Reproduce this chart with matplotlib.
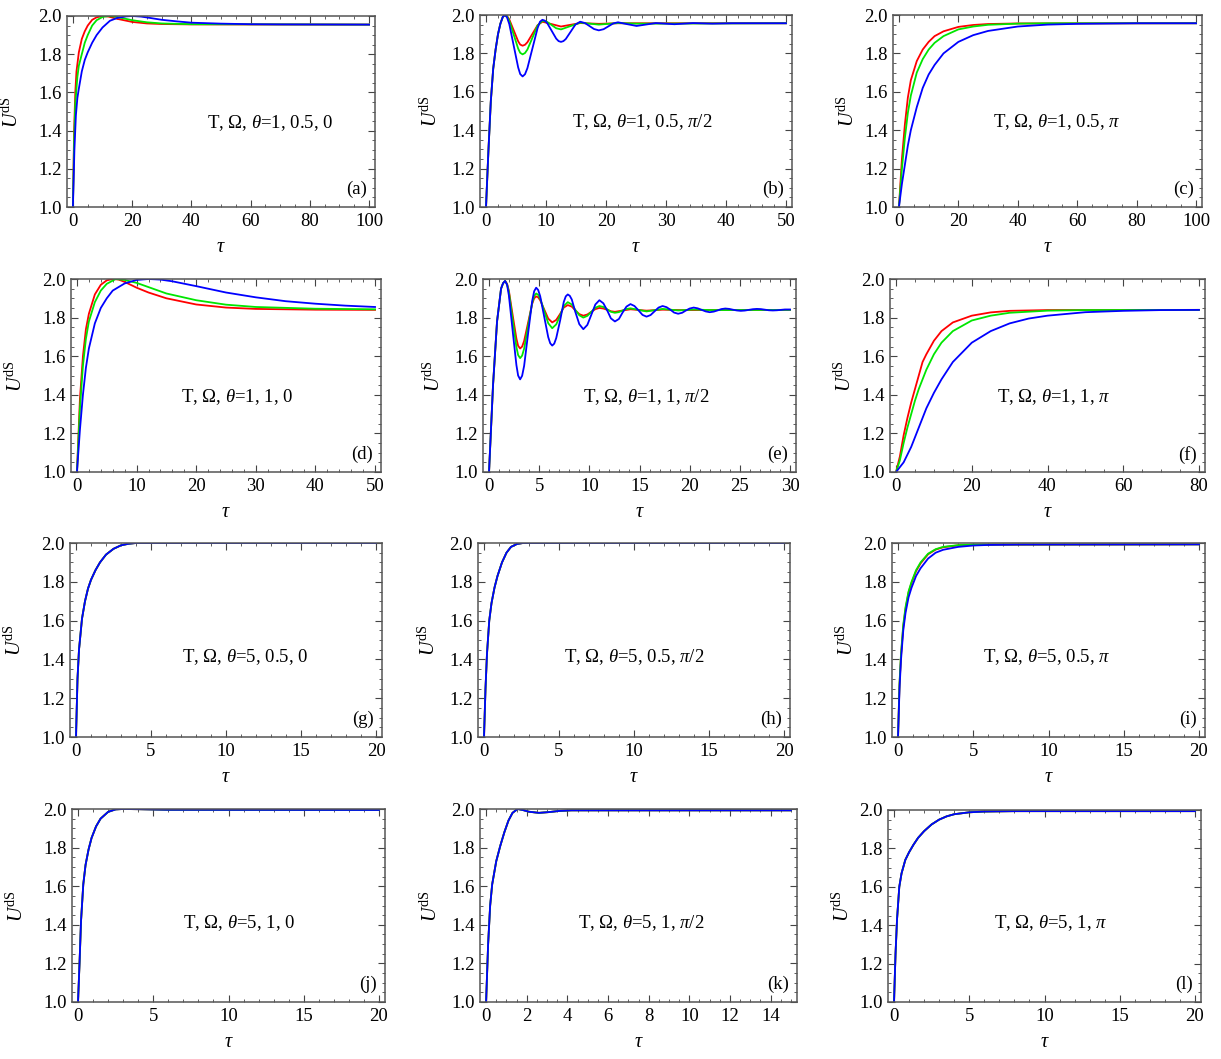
import matplotlib
matplotlib.use("Agg")
import matplotlib.pyplot as plt
from matplotlib.ticker import MultipleLocator, FormatStrFormatter

plt.rcParams['font.family'] = 'Liberation Serif'
plt.rcParams['mathtext.fontset'] = 'custom'
plt.rcParams['mathtext.rm'] = 'Liberation Serif'
plt.rcParams['mathtext.it'] = 'Liberation Serif:italic'
plt.rcParams['mathtext.bf'] = 'Liberation Serif:bold'

# ---- data: tau points and U^dS values per curve ----

# (a) T, Omega, theta = 1, 0.5, 0
a_red_t = [0, 0.4, 0.8, 1.2, 2, 3, 4, 5, 6.5, 8, 10, 12, 15, 20, 25, 30, 40, 100]
a_red_u = [1.0, 1.4, 1.6, 1.71, 1.81, 1.88, 1.92, 1.95, 1.98, 1.993, 2.0, 1.997, 1.985, 1.969, 1.961, 1.958, 1.956, 1.955]
a_green_t = [0, 0.4, 0.8, 1.1, 1.5, 2, 3, 4, 5, 6.5, 8, 10, 12, 14, 17, 20, 25, 30, 40, 100]
a_green_u = [1.0, 1.35, 1.54, 1.6, 1.68, 1.74, 1.8, 1.86, 1.9, 1.95, 1.978, 1.995, 2.0, 1.997, 1.988, 1.978, 1.967, 1.961, 1.957, 1.955]
a_blue_t = [0, 0.5, 1, 1.5, 2, 3, 4, 5, 6.5, 8, 10, 12.5, 15, 18, 20, 23, 26, 30, 35, 40, 50, 60, 70, 100]
a_blue_u = [1.0, 1.3, 1.48, 1.57, 1.62, 1.71, 1.77, 1.81, 1.86, 1.9, 1.94, 1.975, 1.99, 1.998, 2.0, 1.997, 1.99, 1.98, 1.972, 1.965, 1.96, 1.957, 1.956, 1.955]

# (b) T, Omega, theta = 1, 0.5, pi/2
b_rise_t = [0, 0.4, 0.8, 1.2, 1.6, 2.0, 2.4, 2.8]
b_rise_u = [1.0, 1.29, 1.55, 1.72, 1.82, 1.9, 1.955, 1.99]
b_red_t = b_rise_t + [3.14, 3.5, 3.88, 4.62, 5.36, 5.7, 6.1, 6.5, 6.9, 7.75, 8.6, 9.4, 10.95, 12.5, 14.1, 15.7, 18.8, 22, 50]
b_red_u = b_rise_u + [2.0, 1.995, 1.977, 1.92, 1.863, 1.846, 1.84, 1.845, 1.858, 1.9025, 1.947, 1.965, 1.9525, 1.94, 1.949, 1.958, 1.954, 1.957, 1.957]
b_green_t = b_rise_t + [3.14, 3.5, 3.88, 4.62, 5.36, 5.7, 6.1, 6.5, 6.9, 7.75, 8.6, 9.4, 10.2, 10.95, 11.7, 12.5, 14.1, 15.7, 18.8, 22, 25.1, 50]
b_green_u = b_rise_u + [2.0, 1.993, 1.97, 1.8975, 1.825, 1.803, 1.795, 1.802, 1.82, 1.8825, 1.945, 1.97, 1.964, 1.9475, 1.931, 1.925, 1.9425, 1.96, 1.95, 1.958, 1.955, 1.957]
b_blue_t = b_rise_t + [3.14, 3.5, 3.88, 4.62, 5.36, 5.7, 6.1, 6.5, 6.9, 7.75, 8.6, 9.0, 9.4, 9.8, 10.2, 10.95, 11.7, 12.1, 12.5, 12.9, 13.3,
                       14.1, 14.9, 15.7, 16.5, 17.25, 18.0, 18.8, 19.6, 20.4, 21.2, 22, 23.5, 25.1, 26.7, 28.3, 31.4, 34.5, 37.7, 41, 50]
b_blue_u = b_rise_u + [2.0, 1.988, 1.953, 1.84, 1.727, 1.6925, 1.68, 1.6915, 1.723, 1.8275, 1.932, 1.965, 1.975, 1.9705, 1.958, 1.9175, 1.877,
                       1.864, 1.86, 1.864, 1.875, 1.9125, 1.95, 1.965, 1.958, 1.9425, 1.927, 1.92, 1.926, 1.941, 1.956, 1.962, 1.9525,
                       1.943, 1.9505, 1.958, 1.952, 1.958, 1.955, 1.957, 1.957]

# (c) T, Omega, theta = 1, 0.5, pi
c_red_t = [0, 1, 2, 3, 4, 6, 8, 10, 12, 15, 20, 25, 30, 40, 100]
c_red_u = [1.0, 1.25, 1.43, 1.57, 1.66, 1.76, 1.82, 1.86, 1.89, 1.915, 1.938, 1.948, 1.953, 1.956, 1.957]
c_green_t = [0, 1, 2, 3, 4, 6, 8, 10, 12, 15, 20, 25, 30, 40, 50, 100]
c_green_u = [1.0, 1.2, 1.36, 1.49, 1.58, 1.7, 1.77, 1.82, 1.855, 1.89, 1.925, 1.94, 1.949, 1.955, 1.957, 1.957]
c_blue_t = [0, 1, 2, 3, 4, 6, 8, 10, 12, 15, 20, 25, 30, 40, 50, 60, 80, 100]
c_blue_u = [1.0, 1.12, 1.22, 1.32, 1.4, 1.52, 1.62, 1.69, 1.74, 1.8, 1.86, 1.895, 1.917, 1.94, 1.95, 1.954, 1.957, 1.957]

# (d) T, Omega, theta = 1, 1, 0
d_red_t = [0, 0.5, 1, 1.5, 2, 3, 4, 5, 6, 7, 8, 10, 12, 15, 20, 25, 30, 40, 50]
d_red_u = [1.0, 1.38, 1.6, 1.74, 1.82, 1.92, 1.97, 1.993, 2.0, 1.997, 1.985, 1.955, 1.93, 1.9, 1.868, 1.852, 1.845, 1.841, 1.84]
d_green_t = [0, 0.5, 1, 1.5, 2, 3, 4, 5, 6.5, 8, 10, 12, 15, 20, 25, 30, 40, 50]
d_green_u = [1.0, 1.33, 1.55, 1.69, 1.78, 1.88, 1.94, 1.975, 2.0, 1.995, 1.98, 1.958, 1.925, 1.89, 1.867, 1.855, 1.846, 1.843]
d_blue_t = [0, 0.5, 1, 1.5, 2, 3, 4, 5, 6, 8, 10, 12, 14, 16, 20, 25, 30, 35, 40, 45, 50]
d_blue_u = [1.0, 1.22, 1.4, 1.54, 1.64, 1.77, 1.85, 1.9, 1.94, 1.977, 1.995, 2.0, 1.997, 1.988, 1.963, 1.93, 1.905, 1.885, 1.872, 1.862, 1.855]

# (e) T, Omega, theta = 1, 1, pi/2
e_rise_t = [0, 0.4, 0.8, 1.2, 1.4, 1.6]
e_rise_u = [1.0, 1.45, 1.78, 1.95, 1.978, 1.99]
e_red_t = e_rise_t + [1.8, 1.98, 2.35, 2.73, 2.9, 3.1, 3.3, 3.5, 3.9, 4.3, 4.5, 4.7, 4.9, 5.1, 5.5, 5.9, 6.3, 6.7, 7.1, 7.45, 7.85,
                      8.25, 8.6, 9.0, 9.4, 9.8, 10.2, 10.6, 11.0, 11.4, 11.8, 12.15, 12.55, 13.3, 14.1, 14.9, 15.7,
                      16.5, 17.3, 19, 30]
e_red_u = e_rise_u + [1.975, 1.939, 1.815, 1.691, 1.654, 1.64, 1.65, 1.679, 1.775, 1.871, 1.9, 1.91, 1.905, 1.89, 1.8425, 1.795, 1.775,
                      1.788, 1.82, 1.852, 1.865, 1.857, 1.8375, 1.818, 1.81, 1.816, 1.83, 1.844, 1.85, 1.847, 1.84, 1.833, 1.83,
                      1.8365, 1.843, 1.8395, 1.836, 1.8385, 1.841, 1.839, 1.84]
e_green_t = e_rise_t + [1.8, 1.98, 2.35, 2.73, 2.9, 3.1, 3.3, 3.5, 3.9, 4.3, 4.5, 4.7, 4.9, 5.1, 5.5, 5.9, 6.3, 6.7, 7.1, 7.45, 7.85,
                        8.25, 8.6, 9.0, 9.4, 9.8, 10.2, 10.6, 11.0, 11.4, 11.8, 12.15, 12.55, 12.95, 13.3, 13.7, 14.1,
                        14.9, 15.7, 16.5, 17.3, 18.85, 20.4, 22, 30]
e_green_u = e_rise_u + [1.972, 1.932, 1.79, 1.648, 1.606, 1.59, 1.603, 1.639, 1.7575, 1.876, 1.912, 1.925, 1.918, 1.899, 1.835, 1.771,
                        1.745, 1.765, 1.8125, 1.86, 1.88, 1.868, 1.84, 1.812, 1.8, 1.809, 1.83, 1.851, 1.86, 1.855, 1.8425, 1.83,
                        1.825, 1.8285, 1.8365, 1.8445, 1.848, 1.84, 1.832, 1.8385, 1.845, 1.837, 1.842, 1.839, 1.84]
e_blue_t = e_rise_t + [1.8, 1.98, 2.35, 2.73, 2.9, 3.1, 3.3, 3.5, 3.9, 4.3, 4.5, 4.7, 4.9, 5.1, 5.5, 5.9, 6.1, 6.3, 6.5, 6.7, 7.1,
                       7.45, 7.65, 7.85, 8.05, 8.25, 8.6, 9.0, 9.4, 9.8, 10.2, 10.6, 11.0, 11.4, 11.8, 12.15, 12.55, 12.95,
                       13.3, 13.7, 14.1, 14.5, 14.9, 15.3, 15.7, 16.1, 16.5, 16.9, 17.3, 17.7, 18.1, 18.45, 18.85, 19.25,
                       19.6, 20.0, 20.4, 20.8, 21.2, 21.6, 22.0, 22.4, 22.8, 23.15, 23.55, 23.95, 24.3, 24.7, 25.1, 25.5,
                       25.9, 26.3, 26.7, 27.1, 27.5, 27.9, 28.3, 28.7, 29.1, 29.5, 30]
e_blue_u = e_rise_u + [1.97, 1.915, 1.735, 1.554, 1.5, 1.48, 1.4985, 1.55, 1.72, 1.885, 1.9365, 1.955, 1.943, 1.911, 1.805, 1.699,
                       1.667, 1.655, 1.665, 1.694, 1.788, 1.881, 1.91, 1.92, 1.913, 1.894, 1.83, 1.766, 1.74, 1.762, 1.815,
                       1.868, 1.89, 1.874, 1.835, 1.796, 1.78, 1.793, 1.825, 1.857, 1.87, 1.86, 1.8375, 1.814, 1.805, 1.813,
                       1.8325, 1.852, 1.86, 1.854, 1.84, 1.826, 1.82, 1.825, 1.836, 1.847, 1.852, 1.848, 1.84, 1.832, 1.828,
                       1.831, 1.8375, 1.844, 1.847, 1.845, 1.841, 1.837, 1.835, 1.8365, 1.84, 1.8435, 1.845, 1.844, 1.841,
                       1.838, 1.837, 1.838, 1.84, 1.842, 1.842]

# (f) T, Omega, theta = 1, 1, pi
f_red_t = [0, 1, 2, 3, 4, 5, 6, 7, 8, 10, 12, 15, 20, 25, 30, 40, 80]
f_red_u = [1.0, 1.08, 1.19, 1.28, 1.36, 1.43, 1.5, 1.57, 1.61, 1.68, 1.73, 1.775, 1.81, 1.827, 1.835, 1.839, 1.84]
f_green_t = [0, 1, 2, 3, 4, 5, 6, 8, 10, 12, 15, 20, 25, 30, 40, 50, 80]
f_green_u = [1.0, 1.06, 1.15, 1.23, 1.3, 1.37, 1.43, 1.53, 1.61, 1.67, 1.73, 1.785, 1.81, 1.825, 1.836, 1.839, 1.84]
f_blue_t = [0, 2, 4, 5, 6, 8, 10, 12, 15, 18, 20, 25, 30, 35, 40, 50, 60, 70, 80]
f_blue_u = [1.0, 1.05, 1.13, 1.18, 1.23, 1.33, 1.41, 1.48, 1.57, 1.63, 1.67, 1.73, 1.77, 1.795, 1.81, 1.828, 1.835, 1.839, 1.84]

# (g) T, Omega, theta = 5, 0.5, 0  (three curves coincide)
g_t = [0, 0.1, 0.2, 0.4, 0.6, 0.8, 1.0, 1.3, 1.6, 2.0, 2.5, 3.0, 3.5, 4, 20]
g_u = [1.0, 1.3, 1.45, 1.61, 1.7, 1.765, 1.81, 1.86, 1.9, 1.94, 1.97, 1.988, 1.996, 2.0, 2.0]

# (h) T, Omega, theta = 5, 0.5, pi/2
h_t = [0, 0.1, 0.2, 0.35, 0.5, 0.7, 0.9, 1.2, 1.5, 1.8, 2.2, 2.6, 20]
h_u = [1.0, 1.25, 1.43, 1.6, 1.69, 1.77, 1.83, 1.9, 1.95, 1.98, 1.995, 2.0, 2.0]

# (i) T, Omega, theta = 5, 0.5, pi
i_rg_t = [0, 0.1, 0.2, 0.35, 0.5, 0.7, 0.9, 1.2, 1.5, 2.0, 2.5, 3, 4, 5, 20]
i_red_u = [1.0, 1.27, 1.42, 1.57, 1.66, 1.745, 1.795, 1.855, 1.895, 1.942, 1.966, 1.978, 1.988, 1.991, 1.993]
i_green_u = [1.0, 1.28, 1.43, 1.58, 1.67, 1.75, 1.8, 1.86, 1.9, 1.945, 1.968, 1.98, 1.989, 1.992, 1.993]
i_blue_t = [0, 0.1, 0.2, 0.35, 0.5, 0.7, 0.9, 1.2, 1.5, 2.0, 2.5, 3, 4, 5, 6, 8, 20]
i_blue_u = [1.0, 1.25, 1.4, 1.55, 1.64, 1.72, 1.77, 1.83, 1.87, 1.92, 1.95, 1.965, 1.98, 1.987, 1.99, 1.992, 1.993]

# (j) T, Omega, theta = 5, 1, 0
j_t = [0, 0.1, 0.2, 0.35, 0.5, 0.7, 0.9, 1.2, 1.5, 2, 2.5, 3, 4, 6, 20]
j_u = [1.0, 1.2, 1.42, 1.61, 1.71, 1.79, 1.85, 1.91, 1.95, 1.985, 1.998, 2.0, 1.999, 1.996, 1.995]

# (k) T, Omega, theta = 5, 1, pi/2
k_t = [0, 0.1, 0.2, 0.3, 0.5, 0.7, 0.9, 1.1, 1.3, 1.55, 1.8, 2.1, 2.6, 3.1, 3.6, 4.2, 15]
k_u = [1.0, 1.3, 1.5, 1.61, 1.73, 1.81, 1.88, 1.94, 1.98, 2.0, 1.995, 1.986, 1.98, 1.984, 1.99, 1.993, 1.993]

# (l) T, Omega, theta = 5, 1, pi
l_t = [0, 0.1, 0.2, 0.35, 0.5, 0.75, 1.0, 1.3, 1.6, 2.0, 2.5, 3, 3.5, 4, 5, 6, 8, 20]
l_u = [1.0, 1.25, 1.43, 1.6, 1.67, 1.74, 1.78, 1.82, 1.855, 1.89, 1.925, 1.95, 1.967, 1.978, 1.988, 1.992, 1.994, 1.994]

panel_labels = ['(a)', '(b)', '(c)', '(d)', '(e)', '(f)', '(g)', '(h)', '(i)', '(j)', '(k)', '(l)']
param_texts = [r'T, $\Omega$, $\theta$=1, 0.5, 0', r'T, $\Omega$, $\theta$=1, 0.5, $\pi$/2', r'T, $\Omega$, $\theta$=1, 0.5, $\pi$',
               r'T, $\Omega$, $\theta$=1, 1, 0', r'T, $\Omega$, $\theta$=1, 1, $\pi$/2', r'T, $\Omega$, $\theta$=1, 1, $\pi$',
               r'T, $\Omega$, $\theta$=5, 0.5, 0', r'T, $\Omega$, $\theta$=5, 0.5, $\pi$/2', r'T, $\Omega$, $\theta$=5, 0.5, $\pi$',
               r'T, $\Omega$, $\theta$=5, 1, 0', r'T, $\Omega$, $\theta$=5, 1, $\pi$/2', r'T, $\Omega$, $\theta$=5, 1, $\pi$']
tau_max = [100, 50, 100, 50, 30, 80, 20, 20, 20, 20, 15, 20]

curves = [
    [(a_red_t, a_red_u), (a_green_t, a_green_u), (a_blue_t, a_blue_u)],
    [(b_red_t, b_red_u), (b_green_t, b_green_u), (b_blue_t, b_blue_u)],
    [(c_red_t, c_red_u), (c_green_t, c_green_u), (c_blue_t, c_blue_u)],
    [(d_red_t, d_red_u), (d_green_t, d_green_u), (d_blue_t, d_blue_u)],
    [(e_red_t, e_red_u), (e_green_t, e_green_u), (e_blue_t, e_blue_u)],
    [(f_red_t, f_red_u), (f_green_t, f_green_u), (f_blue_t, f_blue_u)],
    [(g_t, g_u), (g_t, g_u), (g_t, g_u)],
    [(h_t, h_u), (h_t, h_u), (h_t, h_u)],
    [(i_rg_t, i_red_u), (i_rg_t, i_green_u), (i_blue_t, i_blue_u)],
    [(j_t, j_u), (j_t, j_u), (j_t, j_u)],
    [(k_t, k_u), (k_t, k_u), (k_t, k_u)],
    [(l_t, l_u), (l_t, l_u), (l_t, l_u)],
]

# ---- layout (pixels: left, top, right, bottom) ----
W, H = 1221, 1059
rects = [(67, 16, 375, 207), (480, 15, 792, 207), (893, 15, 1202, 207),
         (71, 279, 381, 472), (483, 279, 796, 472), (890, 279, 1205, 472),
         (70, 543, 382, 737), (478, 543, 790, 737), (892, 543, 1205, 737),
         (72, 809, 385, 1002), (480, 809, 797, 1002), (888, 810, 1201, 1002)]
text_pos = [(0.66, 0.44), (0.52, 0.44), (0.53, 0.44),
            (0.535, 0.39), (0.52, 0.39), (0.52, 0.39),
            (0.56, 0.41), (0.50, 0.41), (0.495, 0.41),
            (0.535, 0.41), (0.51, 0.41), (0.52, 0.41)]
ylabel_offset = [44, 38, 34]   # px from axes left edge to y-label baseline, per column
major_step = {100: 20, 80: 20, 50: 10, 30: 5, 20: 5, 15: 2}
minor_step = {20: 5, 10: 2, 5: 1, 2: 0.5}
colors = ['#ff0000', '#00e600', '#0000ff']
fs = 13.5

fig = plt.figure(figsize=(W / 100, H / 100), dpi=100)

for n in range(12):
    l, t, r, b = rects[n]
    ax = fig.add_axes([l / W, 1 - b / H, (r - l) / W, (b - t) / H])
    for (tt, uu), c in zip(curves[n], colors):
        ax.plot(tt, uu, color=c, lw=1.3)

    xm = tau_max[n]
    ax.set_xlim(-0.02 * xm, 1.02 * xm)
    ax.set_ylim(1.0, 2.0)
    mj = major_step[xm]
    ax.xaxis.set_major_locator(MultipleLocator(mj))
    ax.xaxis.set_minor_locator(MultipleLocator(minor_step[mj]))
    ax.yaxis.set_major_locator(MultipleLocator(0.2))
    ax.yaxis.set_minor_locator(MultipleLocator(0.05))
    ax.yaxis.set_major_formatter(FormatStrFormatter('%.1f'))
    ax.tick_params(which='both', direction='in', top=True, right=True, color='#444444', labelsize=fs, pad=4)
    ax.tick_params(which='major', length=5, width=0.8)
    ax.tick_params(which='minor', length=2.5, width=0.6)
    for sp in ax.spines.values():
        sp.set_color('#555555')
        sp.set_linewidth(1.1)

    ax.set_xlabel(r'$\tau$', fontsize=fs + 1, labelpad=6)
    ax.set_ylabel(r'$U^{\mathrm{dS}}$', fontsize=fs + 1)
    ax.yaxis.set_label_coords(-ylabel_offset[n % 3] / (r - l), 0.5)

    tx, ty = text_pos[n]
    ax.text(tx, ty, param_texts[n], transform=ax.transAxes, ha='center', va='center', fontsize=fs)
    ax.text(0.975, 0.09, panel_labels[n], transform=ax.transAxes, ha='right', va='center', fontsize=fs)

fig.savefig('out.png', dpi=100)
